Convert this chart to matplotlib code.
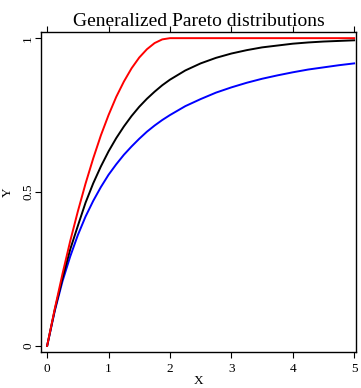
import numpy as np
import matplotlib.pyplot as plt

plt.rcParams['font.family'] = ['Liberation Serif', 'DejaVu Serif']

# values
x = [0, 0.125, 0.25, 0.375, 0.5, 0.625, 0.75, 0.875, 1, 1.125, 1.25, 1.375,
     1.5, 1.625, 1.75, 1.875, 2, 2.25, 2.5, 2.75, 3,
     3.25, 3.5, 3.75, 4, 4.25, 4.5, 4.75, 5]
y_black = [0, 0.118, 0.22, 0.313, 0.39, 0.465, 0.528, 0.583, 0.632, 0.675,
           0.713, 0.747, 0.777, 0.803, 0.826, 0.847, 0.865, 0.895, 0.918,
           0.936, 0.95, 0.961, 0.97, 0.976, 0.982, 0.986, 0.989, 0.991, 0.993]
y_red = [0, 0.121, 0.234, 0.34, 0.437, 0.527, 0.609, 0.684, 0.75, 0.809,
         0.859, 0.902, 0.937, 0.964, 0.984, 0.996, 1, 1, 1,
         1, 1, 1, 1, 1, 1, 1, 1, 1, 1]
y_blue = [0, 0.114, 0.21, 0.29, 0.36, 0.42, 0.471, 0.516, 0.556, 0.59,
          0.621, 0.648, 0.673, 0.696, 0.716, 0.734, 0.75, 0.779, 0.802,
          0.823, 0.84, 0.855, 0.868, 0.879, 0.889, 0.898, 0.905, 0.912, 0.918]

fig = plt.figure(figsize=(3.61, 3.88), dpi=100)
ax = fig.add_axes([41 / 361, 36 / 388, 315 / 361, 320 / 388])

ax.plot(x, y_blue, color='blue', lw=1.4)
ax.plot(x, y_black, color='black', lw=1.4)
ax.plot(x, y_red, color='red', lw=1.4)

ax.set_xlim(-0.1, 5.03)
ax.set_ylim(-0.02, 1.02)
ax.set_xticks([0, 1, 2, 3, 4, 5])
ax.set_yticks([0, 0.5, 1])
ax.set_yticklabels(['0', '0.5', '1'], rotation=90, va='center')
ax.tick_params(axis='x', top=True, direction='out', length=4, labelsize=9.5, pad=4)
ax.tick_params(axis='y', direction='out', length=4, labelsize=9.5, pad=1)
for s in ax.spines.values():
    s.set_linewidth(1.0)

ax.set_title('Generalized Pareto distributions', fontsize=14, pad=4)
ax.set_xlabel('X', fontsize=9.5, labelpad=0)
ax.set_ylabel('Y', fontsize=9.5)
ax.yaxis.set_label_coords(-0.085, 0.5)

plt.savefig('out.png', dpi=100)
